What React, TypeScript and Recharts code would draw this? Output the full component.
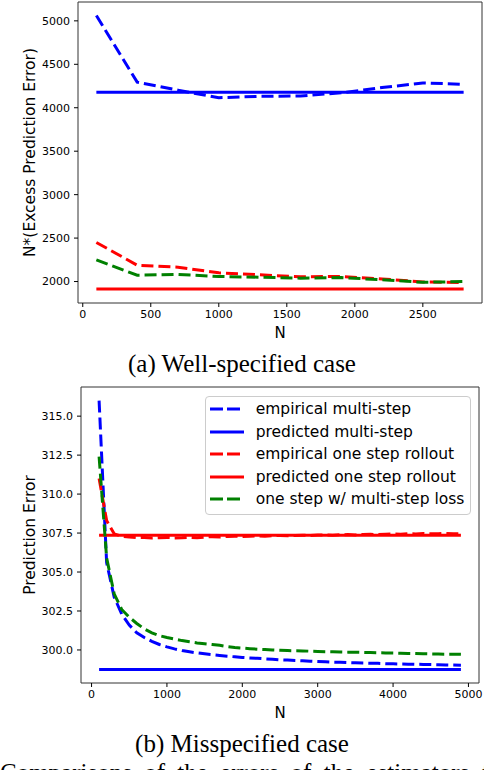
import { LineChart, Line, XAxis, YAxis, ReferenceArea, Legend, Label } from "recharts";

const FONT = "DejaVu Sans, sans-serif";
const SERIF = "Liberation Serif, Times New Roman, serif";

// (a) well-specified case
const wellN = [100, 400, 700, 1000, 1300, 1600, 1900, 2200, 2500, 2800];
const wellEmpMulti = [5062, 4295, 4202, 4115, 4132, 4135, 4172, 4232, 4285, 4270];
const wellPredMulti = 4178;
const wellEmpOne = [2450, 2188, 2165, 2100, 2077, 2055, 2058, 2030, 1995, 1988];
const wellPredOne = 1915;
const wellOneMulti = [2250, 2073, 2082, 2058, 2050, 2039, 2046, 2020, 1991, 2000];
const wellXTicks = [0, 500, 1000, 1500, 2000, 2500];
const wellYTicks = [2000, 2500, 3000, 3500, 4000, 4500, 5000];

// (b) misspecified case
const missN = [
  100, 200, 300, 400, 500, 600, 700, 800, 900, 1000,
  1100, 1200, 1300, 1400, 1500, 1600, 1700, 1800, 1900, 2000,
  2100, 2200, 2300, 2400, 2500, 2600, 2700, 2800, 2900, 3000,
  3100, 3200, 3300, 3400, 3500, 3600, 3700, 3800, 3900, 4000,
  4100, 4200, 4300, 4400, 4500, 4600, 4700, 4800, 4900,
];
const missEmpMulti = [
  316.0, 305.6, 303.4, 302.3, 301.6, 301.1, 300.8, 300.55, 300.35, 300.2,
  300.07, 299.96, 299.88, 299.81, 299.75, 299.7, 299.65, 299.6, 299.56, 299.52,
  299.49, 299.46, 299.43, 299.4, 299.37, 299.35, 299.32, 299.3, 299.28, 299.26,
  299.24, 299.22, 299.21, 299.19, 299.18, 299.16, 299.15, 299.14, 299.12, 299.11,
  299.1, 299.09, 299.08, 299.07, 299.06, 299.05, 299.04, 299.03, 299.02,
];
const missPredMulti = 298.75;
const missEmpOne = [
  311.0, 308.3, 307.45, 307.3, 307.25, 307.2, 307.22, 307.18, 307.2, 307.22,
  307.19, 307.2, 307.23, 307.2, 307.24, 307.27, 307.25, 307.28, 307.3, 307.28,
  307.3, 307.32, 307.3, 307.33, 307.34, 307.32, 307.35, 307.36, 307.34, 307.37,
  307.38, 307.36, 307.39, 307.4, 307.38, 307.41, 307.42, 307.4, 307.43, 307.45,
  307.43, 307.46, 307.44, 307.47, 307.45, 307.46, 307.48, 307.45, 307.46,
];
const missPredOne = 307.36;
const missOneMulti = [
  312.4, 305.9, 303.6, 302.6, 302.1, 301.7, 301.35, 301.1, 300.92, 300.8,
  300.7, 300.6, 300.52, 300.45, 300.4, 300.35, 300.3, 300.22, 300.16, 300.12,
  300.08, 300.05, 300.03, 300.0, 299.98, 299.96, 299.95, 299.94, 299.92, 299.9,
  299.89, 299.88, 299.87, 299.86, 299.85, 299.84, 299.83, 299.82, 299.81, 299.8,
  299.79, 299.78, 299.77, 299.76, 299.75, 299.74, 299.73, 299.73, 299.72,
];
const missXTicks = [0, 1000, 2000, 3000, 4000, 5000];
const missYTicks = [300, 302.5, 305, 307.5, 310, 312.5, 315];

const SERIES = [
  { key: "empMulti", name: "empirical multi-step", color: "#0000ff", dashed: true },
  { key: "predMulti", name: "predicted multi-step", color: "#0000ff", dashed: false },
  { key: "empOne", name: "empirical one step rollout", color: "#ff0000", dashed: true },
  { key: "predOne", name: "predicted one step rollout", color: "#ff0000", dashed: false },
  { key: "oneMulti", name: "one step w/ multi-step loss", color: "#008000", dashed: true },
];

const wellData = wellN.map((n, i) => ({
  n,
  empMulti: wellEmpMulti[i],
  predMulti: wellPredMulti,
  empOne: wellEmpOne[i],
  predOne: wellPredOne,
  oneMulti: wellOneMulti[i],
}));

const missData = missN.map((n, i) => ({
  n,
  empMulti: missEmpMulti[i],
  predMulti: missPredMulti,
  empOne: missEmpOne[i],
  predOne: missPredOne,
  oneMulti: missOneMulti[i],
}));

const tickStyle = { fontSize: 11, fill: "#000", fontFamily: FONT };

const yLabel = (text: string) => (props: any) => {
  const vb = props.viewBox || {};
  const x = 34.5;
  const y = (vb.y ?? 2) + (vb.height ?? 301) / 2;
  return (
    <text x={x} y={y} transform={`rotate(-90 ${x} ${y})`} textAnchor="middle"
      fontSize={15.5} fontFamily={FONT} fill="#000">
      {text}
    </text>
  );
};

const xLabel = (text: string) => (props: any) => {
  const vb = props.viewBox || {};
  const x = (vb.x ?? 78) + (vb.width ?? 404) / 2;
  const y = (vb.y ?? 303) + 34.8;
  return (
    <text x={x} y={y} textAnchor="middle" fontSize={15} fontFamily={FONT} fill="#000">
      {text}
    </text>
  );
};

const LegendBox = () => (
  <div style={{
    width: 266, height: 119, boxSizing: "border-box", border: "1px solid #cccccc",
    borderRadius: 4, background: "rgba(255,255,255,0.8)", paddingTop: 1,
    fontFamily: FONT, fontSize: 15.5, color: "#000",
  }}>
    {SERIES.map((s) => (
      <div key={s.key} style={{ display: "flex", alignItems: "center", height: 22.6 }}>
        <svg width={50} height={10} style={{ flex: "none" }}>
          <line x1={4} x2={38} y1={5} y2={5} stroke={s.color} strokeWidth={3}
            strokeDasharray={s.dashed ? "13 4" : undefined} />
        </svg>
        <span style={{ whiteSpace: "nowrap" }}>{s.name}</span>
      </div>
    ))}
  </div>
);

const renderLines = () =>
  SERIES.map((s) => (
    <Line key={s.key} type="linear" dataKey={s.key} name={s.name} stroke={s.color}
      strokeWidth={3} strokeDasharray={s.dashed ? "12 5" : undefined}
      dot={false} activeDot={false} isAnimationActive={false} />
  ));

export default function App() {
  return (
    <div style={{ position: "absolute", left: 0, top: 0, width: 484, height: 770,
      overflow: "hidden", background: "#fff", fontFamily: FONT }}>
      <div style={{ position: "absolute", left: 0, top: 0 }}>
        <LineChart width={484} height={346} data={wellData}
          margin={{ top: 2, right: 2, bottom: 0, left: 0 }}>
          <ReferenceArea x1={-35} x2={2935} y1={1753} y2={5217} fill="none"
            stroke="#333" strokeWidth={1} />
          <XAxis dataKey="n" type="number" domain={[-35, 2935]} ticks={wellXTicks}
            height={43} axisLine={false} tickLine={{ stroke: "#000" }} tickSize={4}
            tickMargin={3} tick={tickStyle} interval={0}>
            <Label content={xLabel("N")} />
          </XAxis>
          <YAxis type="number" domain={[1753, 5217]} ticks={wellYTicks} width={78}
            axisLine={false} tickLine={{ stroke: "#000" }} tickSize={4} tickMargin={4}
            tick={tickStyle} interval={0}>
            <Label content={yLabel("N*(Excess Prediction Error)")} />
          </YAxis>
          {renderLines()}
        </LineChart>
      </div>
      <div style={{ position: "absolute", left: 0, width: 484, top: 351, textAlign: "center",
        fontFamily: SERIF, fontSize: 25, lineHeight: "25px", color: "#000" }}>
        (a) Well-specified case
      </div>

      <div style={{ position: "absolute", left: 0, top: 380 }}>
        <LineChart width={484} height={346} data={missData}
          margin={{ top: 7, right: 5, bottom: 0, left: 0 }}>
          <ReferenceArea x1={-140} x2={5140} y1={297.88} y2={316.87} fill="none"
            stroke="#333" strokeWidth={1} />
          <XAxis dataKey="n" type="number" domain={[-140, 5140]} ticks={missXTicks}
            height={43} axisLine={false} tickLine={{ stroke: "#000" }} tickSize={4}
            tickMargin={3} tick={tickStyle} interval={0}>
            <Label content={xLabel("N")} />
          </XAxis>
          <YAxis type="number" domain={[297.88, 316.87]} ticks={missYTicks} width={81}
            axisLine={false} tickLine={{ stroke: "#000" }} tickSize={4} tickMargin={4}
            tick={tickStyle} interval={0} tickFormatter={(v: number) => v.toFixed(1)}>
            <Label content={yLabel("Prediction Error")} />
          </YAxis>
          {renderLines()}
          <Legend layout="vertical" align="center" verticalAlign="middle"
            content={() => <LegendBox />}
            wrapperStyle={{ left: 204.7, top: 15.7, width: 266, height: 119 }} />
        </LineChart>
      </div>
      <div style={{ position: "absolute", left: 0, width: 484, top: 731, textAlign: "center",
        fontFamily: SERIF, fontSize: 25, lineHeight: "25px", color: "#000" }}>
        (b) Misspecified case
      </div>
      <div style={{ position: "absolute", left: 0, width: 484, top: 760, fontFamily: SERIF,
        fontSize: 25, lineHeight: "25px", color: "#000", whiteSpace: "nowrap",
        wordSpacing: 6 }}>
        Comparisons of the errors of the estimators for the
      </div>
    </div>
  );
}
